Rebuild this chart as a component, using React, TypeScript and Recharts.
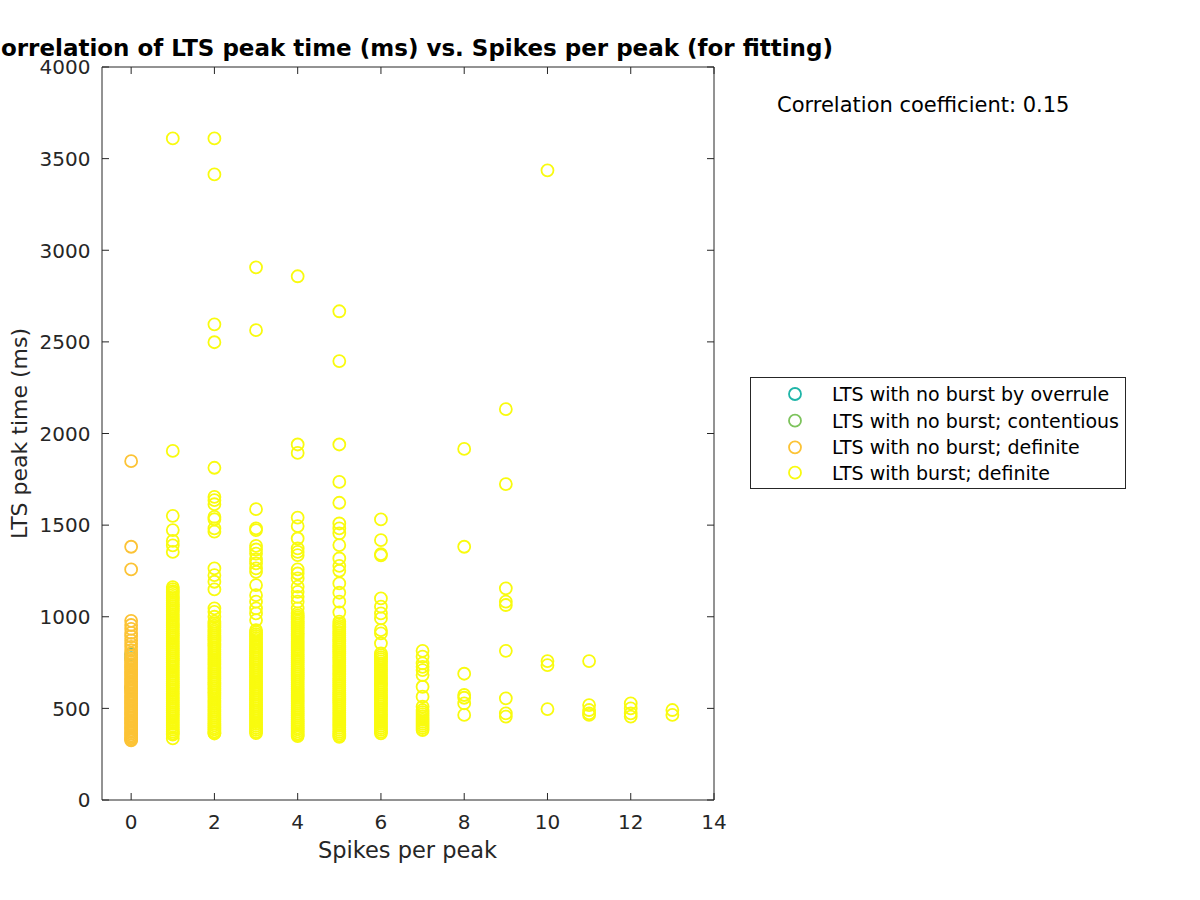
import React from 'react';
import { ScatterChart, Scatter, XAxis, YAxis, Legend } from 'recharts';

const FONT = '"DejaVu Sans", "Noto Sans", sans-serif';
const AXIS_COLOR = '#262626';

// ---- axis definitions ----
const X_TICKS = [0, 2, 4, 6, 8, 10, 12, 14];
const Y_TICKS = [0, 500, 1000, 1500, 2000, 2500, 3000, 3500, 4000];
const X_DOMAIN: [number, number] = [-0.7, 14];
const Y_DOMAIN: [number, number] = [0, 4000];

// ---- series meta ----
const SERIES_NAMES = [
  'LTS with no burst by overrule',
  'LTS with no burst; contentious',
  'LTS with no burst; definite',
  'LTS with burst; definite',
];
const SERIES_COLORS = ['#1FB5A8', '#7DC35C', '#FCC335', '#F9FB0E'];

// ---- data: LTS peak time (ms) per spikes-per-peak value ----
const overruleSpikes = [0, 0];
const overruleTimes = [774, 796];

const contentiousSpikes = [0];
const contentiousTimes = [612];

// no burst, definite (all at 0 spikes)
const noBurstTimes = [
  1849, 1382, 1258, 978, 955, 934, 912, 893, 871, 852, 836, 818, 800, 786, 771, 760,
  751, 741, 732, 722, 713, 703, 694, 684, 676, 665, 657, 646, 638, 628, 619, 609, 600,
  591, 582, 572, 563, 553, 545, 535, 527, 516, 508, 498, 489, 480, 471, 462, 452, 444,
  434, 426, 417, 407, 398, 390, 380, 371, 362, 353, 345, 337, 330, 326,
];

// burst, definite, grouped by spikes per peak
const burst1 = [
  3610, 1905, 1551, 1473, 1414, 1390, 1354,
  1162, 1151, 1140, 1131, 1119, 1108, 1099, 1088, 1077, 1066, 1057, 1046, 1035, 1026,
  1014, 1004, 993, 983, 972, 961, 951, 941, 930, 919, 910, 899, 888, 878, 867, 857,
  846, 836, 825, 815, 804, 793, 783, 772, 762, 751, 741, 730, 720, 709, 699, 688,
  678, 667, 657, 646, 636, 625, 615, 604, 594, 583, 573, 562, 552, 541, 531, 520,
  510, 499, 489, 478, 468, 457, 447, 436, 426, 415, 405, 394, 384, 373, 364, 357, 336,
];
const burst2 = [
  3610, 3414, 2596, 2498, 1813, 1654, 1636, 1614, 1545, 1532, 1482, 1464, 1264, 1227,
  1191, 1149, 1046, 1027, 1000,
  973, 962, 951, 941, 929, 919, 908, 897, 887, 876, 866, 854, 844, 833, 823, 812, 801,
  791, 780, 769, 759, 748, 738, 726, 716, 705, 695, 684, 673, 663, 652, 641, 631, 620,
  610, 598, 588, 577, 567, 556, 545, 535, 524, 513, 503, 492, 482, 470, 460, 449, 439,
  428, 417, 407, 396, 386, 375, 366, 363,
];
const burst3 = [
  2907, 2564, 1587, 1482, 1473, 1387, 1367, 1345, 1313, 1291, 1264, 1245, 1173, 1118,
  1082, 1046, 1018, 982,
  927, 916, 905, 895, 884, 874, 862, 852, 841, 831, 820, 809, 799, 788, 777, 767, 756,
  745, 735, 724, 713, 703, 692, 681, 671, 660, 649, 639, 628, 617, 607, 596, 585, 575,
  564, 553, 543, 532, 521, 511, 500, 489, 479, 468, 457, 447, 436, 425, 415, 404, 393,
  383, 372, 365,
];
const burst4 = [
  2858, 1940, 1894, 1541, 1495, 1427, 1373, 1354, 1336, 1258, 1236, 1209, 1164, 1136,
  1109, 1082, 1046,
  1018, 1006, 996, 985, 974, 964, 953, 942, 931, 921, 910, 899, 889, 878, 867, 857, 846,
  835, 824, 814, 803, 792, 782, 771, 760, 750, 739, 728, 717, 707, 696, 685, 675, 664,
  653, 643, 632, 621, 610, 600, 589, 578, 568, 557, 546, 536, 525, 514, 503, 493, 482,
  471, 461, 450, 439, 429, 418, 407, 396, 386, 375, 364, 356, 349,
];
const burst5 = [
  2667, 2395, 1940, 1736, 1622, 1509, 1482, 1455, 1391, 1318, 1278, 1251, 1182, 1131,
  1082, 1024,
  973, 961, 950, 940, 929, 918, 908, 897, 886, 875, 865, 854, 843, 833, 822, 811, 800,
  790, 779, 768, 758, 747, 736, 726, 715, 704, 693, 683, 672, 661, 651, 640, 629, 619,
  608, 597, 586, 576, 565, 554, 544, 533, 522, 512, 501, 490, 479, 469, 458, 447, 437,
  426, 415, 405, 394, 383, 372, 362, 353, 345,
];
const burst6 = [
  1531, 1418, 1342, 1335, 1100, 1055, 1018, 991, 927, 909, 855,
  800, 789, 778, 768, 757, 746, 736, 725, 714, 704, 693, 682, 671, 661, 650, 639, 629,
  618, 607, 597, 586, 575, 564, 554, 543, 532, 522, 511, 500, 490, 479, 468, 457, 447,
  436, 425, 415, 404, 393, 383, 372, 364,
];
const burst7 = [814, 782, 746, 727, 709, 682, 618, 564, 509, 491, 480, 469, 458, 447, 437, 426, 415, 404, 393, 382];
const burst8 = [1916, 1382, 689, 573, 558, 527, 464];
const burst9 = [2133, 1724, 1155, 1082, 1064, 814, 555, 473, 455];
const burst10 = [3436, 758, 736, 496];
const burst11 = [758, 518, 491, 473, 464];
const burst12 = [527, 500, 473, 455];
const burst13 = [491, 464];

const burstSpikeCounts = [1, 2, 3, 4, 5, 6, 7, 8, 9, 10, 11, 12, 13];
const burstTimesBySpikes = [
  burst1, burst2, burst3, burst4, burst5, burst6, burst7,
  burst8, burst9, burst10, burst11, burst12, burst13,
];

type Pt = { spikes: number; time: number };

const overruleData: Pt[] = overruleTimes.map((t, i) => ({ spikes: overruleSpikes[i], time: t }));
const contentiousData: Pt[] = contentiousTimes.map((t, i) => ({ spikes: contentiousSpikes[i], time: t }));
const noBurstData: Pt[] = noBurstTimes.map((t) => ({ spikes: 0, time: t }));
const burstData: Pt[] = burstSpikeCounts.flatMap((s, i) =>
  burstTimesBySpikes[i].map((t) => ({ spikes: s, time: t }))
);

const SERIES_DATA = [overruleData, contentiousData, noBurstData, burstData];

const MARKER_R = 6;
const MARKER_W = 1.8;
const TICK_LEN = 7;

const makeShape = (color: string) => (props: any) => {
  const { cx, cy } = props;
  if (cx == null || cy == null) return <g />;
  return <circle cx={cx} cy={cy} r={MARKER_R} fill="none" stroke={color} strokeWidth={MARKER_W} />;
};

const BottomTick = (props: any) => {
  const { x, y, payload } = props;
  return (
    <g>
      <line x1={x} x2={x} y1={y} y2={y - TICK_LEN} stroke={AXIS_COLOR} strokeWidth={1} />
      <text x={x} y={y + 29} textAnchor="middle" fontSize={20} fontFamily={FONT} fill={AXIS_COLOR}>
        {payload.value}
      </text>
    </g>
  );
};

const LeftTick = (props: any) => {
  const { x, y, payload } = props;
  return (
    <g>
      <line x1={x} x2={x + TICK_LEN} y1={y} y2={y} stroke={AXIS_COLOR} strokeWidth={1} />
      <text x={x - 11.5} y={y + 7.3} textAnchor="end" fontSize={20} fontFamily={FONT} fill={AXIS_COLOR}>
        {payload.value}
      </text>
    </g>
  );
};

const TopTick = (props: any) => {
  const { x, y } = props;
  return <line x1={x} x2={x} y1={y} y2={y + TICK_LEN} stroke={AXIS_COLOR} strokeWidth={1} />;
};

const RightTick = (props: any) => {
  const { x, y } = props;
  return <line x1={x - TICK_LEN} x2={x} y1={y} y2={y} stroke={AXIS_COLOR} strokeWidth={1} />;
};

const LEGEND_ROW_Y = [17, 43.7, 70.3, 95.7];

const LegendBox = () => (
  <svg width={376} height={112} style={{ display: 'block' }}>
    <rect x={0.5} y={0.5} width={375} height={111} fill="#fff" stroke={AXIS_COLOR} strokeWidth={1} />
    {SERIES_NAMES.map((name, i) => (
      <g key={name}>
        <circle cx={45} cy={LEGEND_ROW_Y[i]} r={MARKER_R} fill="none" stroke={SERIES_COLORS[i]} strokeWidth={MARKER_W} />
        <text x={82} y={LEGEND_ROW_Y[i] + 6.8} fontSize={19} fontFamily={FONT} fill="#000">
          {name}
        </text>
      </g>
    ))}
  </svg>
);

const EMPTY: Pt[] = [];

export default function App() {
  return (
    <div style={{ position: 'absolute', left: 0, top: 0, width: 1200, height: 900, background: '#fff' }}>
      <ScatterChart width={1200} height={900} margin={{ top: 66, right: 485, bottom: 0, left: 0 }}>
        <XAxis
          xAxisId="bottom"
          dataKey="spikes"
          type="number"
          orientation="bottom"
          domain={X_DOMAIN}
          ticks={X_TICKS}
          interval={0}
          allowDataOverflow
          height={100}
          tickSize={0}
          tickMargin={0}
          tickLine={false}
          tick={<BottomTick />}
          axisLine={{ stroke: AXIS_COLOR, strokeWidth: 1 }}
        />
        <XAxis
          xAxisId="top"
          dataKey="spikes"
          type="number"
          orientation="top"
          domain={X_DOMAIN}
          ticks={X_TICKS}
          interval={0}
          allowDataOverflow
          height={1}
          tickSize={0}
          tickMargin={0}
          tickLine={false}
          tick={<TopTick />}
          axisLine={{ stroke: AXIS_COLOR, strokeWidth: 1 }}
        />
        <YAxis
          yAxisId="left"
          dataKey="time"
          type="number"
          orientation="left"
          domain={Y_DOMAIN}
          ticks={Y_TICKS}
          interval={0}
          allowDataOverflow
          width={102}
          tickSize={0}
          tickMargin={0}
          tickLine={false}
          tick={<LeftTick />}
          axisLine={{ stroke: AXIS_COLOR, strokeWidth: 1 }}
        />
        <YAxis
          yAxisId="right"
          dataKey="time"
          type="number"
          orientation="right"
          domain={Y_DOMAIN}
          ticks={Y_TICKS}
          interval={0}
          allowDataOverflow
          width={1}
          tickSize={0}
          tickMargin={0}
          tickLine={false}
          tick={<RightTick />}
          axisLine={{ stroke: AXIS_COLOR, strokeWidth: 1 }}
        />
        <Scatter
          name="frame"
          data={EMPTY}
          xAxisId="top"
          yAxisId="right"
          legendType="none"
          isAnimationActive={false}
        />
        {SERIES_DATA.map((data, i) => (
          <Scatter
            key={SERIES_NAMES[i]}
            name={SERIES_NAMES[i]}
            data={data}
            xAxisId="bottom"
            yAxisId="left"
            fill={SERIES_COLORS[i]}
            stroke={SERIES_COLORS[i]}
            shape={makeShape(SERIES_COLORS[i])}
            isAnimationActive={false}
          />
        ))}
        <Legend
          layout="horizontal"
          verticalAlign="middle"
          align="center"
          wrapperStyle={{ left: 750, top: 377, width: 376, height: 112 }}
          content={() => <LegendBox />}
        />
      </ScatterChart>
      <svg
        width={1200}
        height={900}
        style={{ position: 'absolute', left: 0, top: 0, pointerEvents: 'none', overflow: 'hidden' }}
      >
        <text x={408.5} y={56} textAnchor="middle" fontSize={23} fontWeight="bold" fontFamily={FONT} fill="#000">
          Correlation of LTS peak time (ms) vs. Spikes per peak (for fitting)
        </text>
        <text x={407.5} y={858} textAnchor="middle" fontSize={22.5} fontFamily={FONT} fill={AXIS_COLOR}>
          Spikes per peak
        </text>
        <text
          x={0}
          y={0}
          transform="translate(27,433.5) rotate(-90)"
          textAnchor="middle"
          fontSize={22}
          fontFamily={FONT}
          fill={AXIS_COLOR}
        >
          LTS peak time (ms)
        </text>
        <text x={777} y={112} fontSize={21} fontFamily={FONT} fill="#000">
          Correlation coefficient: 0.15
        </text>
      </svg>
    </div>
  );
}
